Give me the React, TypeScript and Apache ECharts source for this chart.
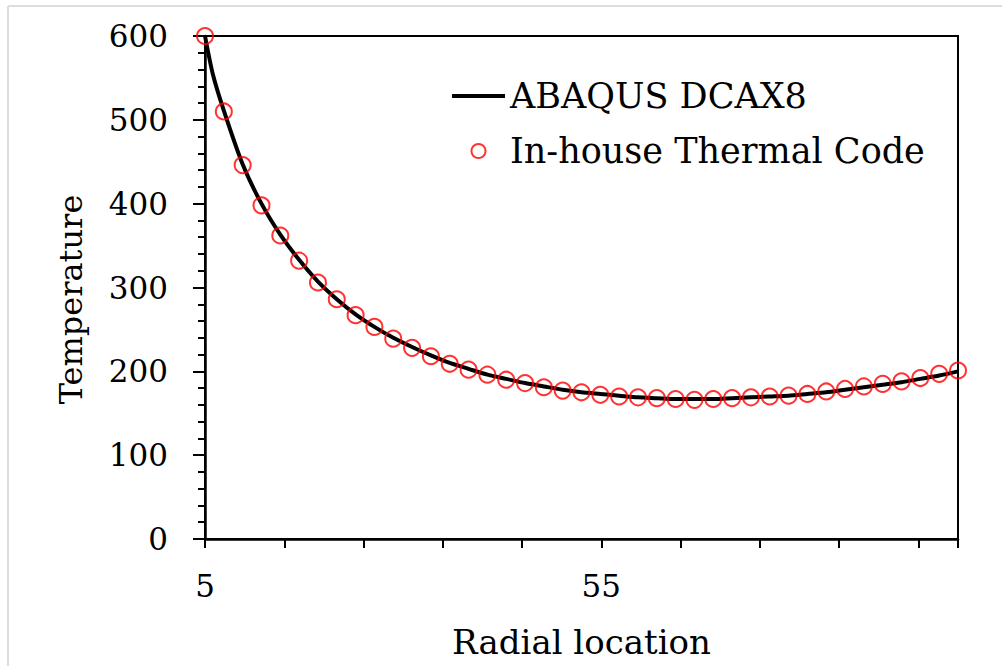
import React, { useEffect, useRef } from "react";
import * as echarts from "echarts";

// Radial locations of the in-house code nodes
const radialLocation = [
  5, 7.375, 9.75, 12.125, 14.5, 16.875, 19.25, 21.625, 24, 26.375, 28.75,
  31.125, 33.5, 35.875, 38.25, 40.625, 43, 45.375, 47.75, 50.125, 52.5,
  54.875, 57.25, 59.625, 62, 64.375, 66.75, 69.125, 71.5, 73.875, 76.25,
  78.625, 81, 83.375, 85.75, 88.125, 90.5, 92.875, 95.25, 97.625, 100,
];
const inHouseTemp = [
  600, 510, 446, 398, 362, 332, 306, 286, 267, 253, 239,
  228, 218, 209, 202, 196, 190, 186, 181, 177, 175,
  172, 170, 169, 168, 167, 166, 167, 168, 169, 170,
  171, 173, 176, 179, 182, 185, 188, 192, 197, 201,
];

// ABAQUS DCAX8 curve
const abaqusLocation = [
  5, 6, 7.375, 9.75, 12.125, 14.5, 16.875, 19.25, 21.625, 24, 26.375, 28.75,
  31.125, 33.5, 35.875, 38.25, 40.625, 43, 45.375, 47.75, 50.125, 52.5,
  54.875, 57.25, 59.625, 62, 64.375, 66.75, 69.125, 71.5, 73.875, 76.25,
  78.625, 81, 83.375, 85.75, 88.125, 90.5, 92.875, 95.25, 97.625, 100,
];
const abaqusTemp = [
  600, 554, 511, 447, 400, 363, 333, 307, 286, 268, 253, 240,
  229, 219, 210, 203, 196, 191, 186, 182, 178, 175,
  173, 171, 169, 168, 167, 167, 167, 168, 169, 170,
  171, 173, 175, 178, 181, 184, 187, 191, 195, 200,
];

const xTickLabelValues = [5, 55];
const xTickOffset = 5; // ticks every 10 starting at 5
const seriesNames = ["ABAQUS DCAX8", "In-house Thermal Code"];

const FONT = "DejaVu Serif";

export default function App() {
  const ref = useRef<HTMLDivElement>(null);

  useEffect(() => {
    if (!ref.current) return;
    const chart = echarts.init(ref.current, undefined, { renderer: "svg" });
    const textBase = { fontFamily: FONT, fontSize: 31, color: "#000" };
    chart.setOption({
      animation: false,
      backgroundColor: "#fff",
      grid: {
        left: 205,
        top: 36,
        right: 45,
        bottom: 122,
        show: true,
        borderColor: "#000",
        borderWidth: 2,
        backgroundColor: "transparent",
      },
      graphic: [
        {
          type: "line",
          shape: { x1: 8, y1: 6, x2: 1002, y2: 6 },
          style: { stroke: "#dddddd", lineWidth: 2 },
          silent: true,
        },
        {
          type: "line",
          shape: { x1: 8, y1: 6, x2: 8, y2: 666 },
          style: { stroke: "#dddddd", lineWidth: 2 },
          silent: true,
        },
      ],
      legend: {
        data: [
          { name: seriesNames[0], icon: "path://M0,0 L53,0 L53,4 L0,4 Z" },
          { name: seriesNames[1] },
        ],
        orient: "vertical",
        left: 452,
        top: 77,
        padding: 0,
        itemWidth: 53,
        itemHeight: 14,
        itemGap: 17,
        textStyle: { ...textBase, fontSize: 35, lineHeight: 38 },
      },
      xAxis: [
        {
          type: "value",
          min: 5,
          max: 100,
          position: "bottom",
          axisLine: { show: true, lineStyle: { color: "#000", width: 2.5 } },
          axisTick: { show: false },
          axisLabel: { show: false },
          splitLine: { show: false },
          name: "Radial location",
          nameLocation: "middle",
          nameGap: 84,
          nameTextStyle: { ...textBase, fontSize: 34, lineHeight: 38 },
        },
        {
          type: "value",
          min: 0,
          max: 95,
          interval: 10,
          position: "bottom",
          axisLine: { show: false },
          axisTick: {
            show: true,
            length: 9,
            lineStyle: { color: "#000", width: 2 },
          },
          axisLabel: {
            ...textBase,
            lineHeight: 36,
            margin: 29,
            formatter: (v: number) => {
              const real = v + xTickOffset;
              return xTickLabelValues.includes(real) ? String(real) : "";
            },
          },
          splitLine: { show: false },
        },
      ],
      yAxis: {
        type: "value",
        min: 0,
        max: 600,
        interval: 100,
        axisLine: { show: true, lineStyle: { color: "#000", width: 2.5 } },
        axisTick: { show: true, length: 12, lineStyle: { color: "#000", width: 2 } },
        minorTick: {
          show: true,
          splitNumber: 5,
          length: 7,
          lineStyle: { color: "#000", width: 2 },
        },
        minorSplitLine: { show: false },
        splitLine: { show: false },
        axisLabel: { ...textBase, margin: 37 },
        name: "Temperature",
        nameLocation: "middle",
        nameGap: 116,
        nameTextStyle: { ...textBase, fontSize: 32, lineHeight: 36, padding: [0, 24, 0, 0] },
      },
      series: [
        {
          name: seriesNames[0],
          type: "line",
          xAxisIndex: 0,
          data: abaqusLocation.map((x, i) => [x, abaqusTemp[i]]),
          symbol: "none",
          showSymbol: false,
          smooth: 0.25,
          lineStyle: { color: "#000", width: 4 },
          itemStyle: { color: "#000" },
          z: 2,
        },
        {
          name: seriesNames[1],
          type: "scatter",
          xAxisIndex: 0,
          data: radialLocation.map((x, i) => [x, inHouseTemp[i]]),
          symbol: "circle",
          symbolSize: 16,
          itemStyle: {
            color: "rgba(0,0,0,0)",
            borderColor: "#ff0000",
            borderWidth: 2,
          },
          z: 3,
        },
      ],
    });
    return () => chart.dispose();
  }, []);

  return (
    <div
      ref={ref}
      style={{ position: "fixed", left: 0, top: 0, width: 1003, height: 666 }}
    />
  );
}
